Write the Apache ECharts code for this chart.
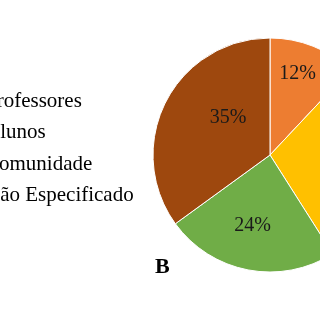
<!DOCTYPE html>
<html>
<head>
    <meta charset="utf-8">
    <title>Pie B</title>
    <script src="https://cdn.jsdelivr.net/npm/echarts@6/dist/echarts.min.js"></script>
    <style>
        html, body { margin: 0; padding: 0; background: #fff; }
        #chart { width: 320px; height: 320px; }
    </style>
</head>
<body>
<div id="chart"></div>
<script type="text/javascript">
    // dados do gráfico
    var categorias = ['Professores', 'Alunos', 'Comunidade', 'Não Especificado'];
    var percentuais = [12, 29, 24, 35];
    var cores = ['#ED7D31', '#FFC000', '#70AD47', '#9E480E'];
    // deslocamento dos rótulos (estilo)
    var deslocRotulos = [[5, -24], [22, 0], [-6, 10], [13, -9]];

    var myChart = echarts.init(document.getElementById('chart'));
    myChart.setOption({
        animation: false,
        color: cores,
        title: {
            text: 'B',
            left: 150,
            top: 251,
            textStyle: { fontFamily: 'Liberation Serif', fontWeight: 'bold', fontSize: 22, color: '#000' }
        },
        legend: {
            orient: 'vertical',
            left: -50,
            top: 85,
            itemWidth: 20,
            itemHeight: 12,
            itemGap: 9.6,
            icon: 'rect',
            data: categorias,
            textStyle: { fontFamily: 'Liberation Serif', fontSize: 21, lineHeight: 22, color: '#000', padding: [0, 0, 0, 4] }
        },
        series: [{
            type: 'pie',
            center: [270, 155],
            radius: 117,
            startAngle: 90,
            clockwise: true,
            itemStyle: { borderColor: '#fff', borderWidth: 1 },
            label: {
                position: 'inside',
                formatter: '{c}%',
                fontFamily: 'Liberation Serif',
                fontSize: 20,
                color: '#1a1a1a'
            },
            labelLayout: function (p) {
                var d = deslocRotulos[p.dataIndex];
                return { dx: d[0], dy: d[1] };
            },
            labelLine: { show: false },
            data: categorias.map(function (c, i) { return { name: c, value: percentuais[i] }; })
        }]
    });
</script>
</body>
</html>
